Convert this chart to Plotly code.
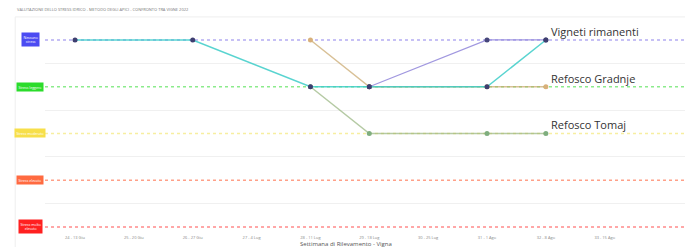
import plotly.graph_objects as go

title_text = "VALUTAZIONE DELLO STRESS IDRICO - METODO DEGLI APICI - CONFRONTO TRA VIGNE 2022"
x_title = "Settimana di Rilevamento - Vigna"

weeks = ["24 - 13 Giu", "25 - 20 Giu", "26 - 27 Giu", "27 - 4 Lug", "28 - 11 Lug",
         "29 - 18 Lug", "30 - 25 Lug", "31 - 1 Ago", "32 - 8 Ago", "33 - 15 Ago"]

levels = ["Stress molto<br>elevato", "Stress elevato", "Stress moderato", "Stress leggero", "Nessuno<br>stress"]
level_values = [0, 1, 2, 3, 4]
level_box_colors = ["#ff2020", "#ff6a40", "#f7df4a", "#2bdc2b", "#4b4bf2"]
level_line_colors = ["#ff8a8a", "#ffa088", "#f7eea0", "#8ceb8c", "#b4acf2"]

# series: week indices and stress level values
teal_x = [0, 2, 4, 5, 7, 8]
teal_y = [4, 4, 3, 3, 3, 4]
gradnje_x = [4, 5, 7, 8]
gradnje_y = [4, 3, 3, 3]
purple_x = [5, 7, 8]
purple_y = [3, 4, 4]
tomaj_x = [4, 5, 7, 8]
tomaj_y = [3, 2, 2, 2]

fig = go.Figure()

# level reference lines
for v, c in zip(level_values, level_line_colors):
    fig.add_shape(type="line", xref="paper", x0=0, x1=1, yref="y", y0=v, y1=v,
                  line=dict(color=c, width=1.5, dash="dot"), layer="below")

fig.add_trace(go.Scatter(x=gradnje_x, y=gradnje_y, mode="lines+markers",
                         line=dict(color="rgba(200,165,105,0.7)", width=1.5),
                         marker=dict(color="#d8b07a", size=5), showlegend=False))
fig.add_trace(go.Scatter(x=tomaj_x, y=tomaj_y, mode="lines+markers",
                         line=dict(color="rgba(150,180,125,0.7)", width=1.5),
                         marker=dict(color="#7fae7f", size=5), showlegend=False))
fig.add_trace(go.Scatter(x=purple_x, y=purple_y, mode="lines+markers",
                         line=dict(color="rgba(150,140,220,0.9)", width=1.2),
                         marker=dict(color="#46467a", size=5), showlegend=False))
fig.add_trace(go.Scatter(x=teal_x, y=teal_y, mode="lines+markers",
                         line=dict(color="rgba(60,205,200,0.85)", width=1.5),
                         marker=dict(color="#3e3e70", size=5), showlegend=False))

annotations = []
# level boxes on the y axis
for name, v, c in zip(levels, level_values, level_box_colors):
    annotations.append(dict(xref="paper", x=-0.023, yref="y", y=v, text=name,
                            showarrow=False, xanchor="center",
                            font=dict(size=3.5, color="white", family="Open Sans"),
                            bgcolor=c, borderpad=1.5))
# series labels
for name, xs, ys in [("Vigneti rimanenti", teal_x, teal_y),
                     ("Refosco Gradnje", gradnje_x, gradnje_y),
                     ("Refosco Tomaj", tomaj_x, tomaj_y)]:
    annotations.append(dict(x=xs[-1], y=ys[-1], xref="x", yref="y", text=name,
                            showarrow=False, xanchor="left", yanchor="bottom",
                            xshift=3, yshift=-1,
                            font=dict(size=11, color="#333333", family="Open Sans")))
annotations.append(dict(xref="paper", x=-0.046, yref="paper", y=1.0, yanchor="bottom",
                        xanchor="left", yshift=4, text=title_text, showarrow=False,
                        font=dict(size=4, color="#777", family="Open Sans")))
annotations.append(dict(xref="paper", x=0.465, yref="paper", y=0, yanchor="top",
                        yshift=-4, text=x_title, showarrow=False,
                        font=dict(size=6, color="#555", family="Open Sans")))

# card border
fig.add_shape(type="line", xref="paper", yref="paper", x0=-0.046, x1=-0.046, y0=-0.1, y1=1.005,
              line=dict(color="#eeeeee", width=1))
fig.add_shape(type="line", xref="paper", yref="paper", x0=-0.046, x1=1.0, y0=1.005, y1=1.005,
              line=dict(color="#eeeeee", width=1))

fig.update_layout(
    width=685, height=239,
    margin=dict(l=37, r=0, t=10, b=13),
    paper_bgcolor="white", plot_bgcolor="white",
    annotations=annotations,
    showlegend=False,
    xaxis=dict(range=[-0.51, 10.5], tickvals=list(range(len(weeks))), ticktext=weeks,
               showgrid=False, zeroline=False, showline=False,
               tickfont=dict(size=4, color="#888", family="Open Sans"), ticks=""),
    yaxis=dict(range=[-0.15, 4.47], tickvals=[0.5, 1.5, 2.5, 3.5], ticktext=["", "", "", ""],
               showgrid=True, gridcolor="#f0f0f0", gridwidth=1, zeroline=False,
               showline=False, ticks=""),
)

fig.write_html("out.html")
